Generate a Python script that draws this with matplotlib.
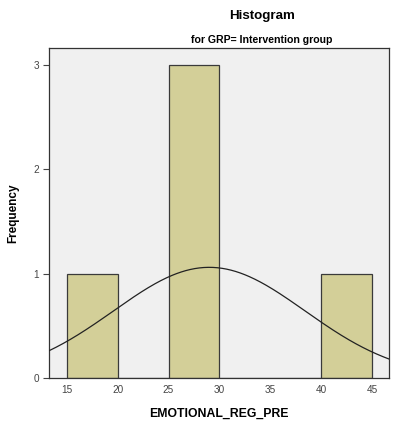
import numpy as np
import matplotlib.pyplot as plt

plt.rcParams['font.family'] = ['Liberation Sans', 'DejaVu Sans']

# histogram bins and counts
bin_edges = [15, 20, 25, 30, 35, 40, 45]
counts = [1, 0, 3, 0, 0, 1]
x_ticks = [15, 20, 25, 30, 35, 40, 45]
y_ticks = [0, 1, 2, 3]

# normal curve parameters
n_cases = 5
mean = 29.0
std = 9.4

fig = plt.figure(figsize=(3.94, 4.26), dpi=100)
ax = fig.add_axes([0.1256, 0.1127, 0.8614, 0.7746])
ax.set_facecolor('#f0f0f0')

lefts = bin_edges[:-1]
widths = np.diff(bin_edges)
ax.bar(lefts, counts, width=widths, align='edge', color='#d3cf98',
       edgecolor='#3a3a3a', linewidth=0.9, zorder=2)

xs = np.linspace(13.31, 46.64, 300)
bw = widths[0]
ys = n_cases * bw / (std * np.sqrt(2 * np.pi)) * np.exp(-0.5 * ((xs - mean) / std) ** 2)
ax.plot(xs, ys, color='#222222', linewidth=0.9, zorder=3)

ax.set_xlim(13.31, 46.64)
ax.set_ylim(0, 3.164)
ax.set_xticks(x_ticks)
ax.set_yticks(y_ticks)
ax.tick_params(axis='both', labelsize=7.2, colors='#444444', length=4, width=0.8)
ax.tick_params(axis='x', length=0, pad=5)
for s in ax.spines.values():
    s.set_color('#333333')
    s.set_linewidth(0.9)

ax.set_xlabel('EMOTIONAL_REG_PRE', fontsize=8.8, fontweight='bold', labelpad=9)
ax.set_ylabel('Frequency', fontsize=8.5, fontweight='bold', labelpad=10)

fig.text(0.665, 0.963, 'Histogram', ha='center', va='center', fontsize=9.6, fontweight='bold')
fig.text(0.665, 0.907, 'for GRP= Intervention group', ha='center', va='center',
         fontsize=7.6, fontweight='bold')

fig.savefig('out.png', dpi=100, facecolor='white')
